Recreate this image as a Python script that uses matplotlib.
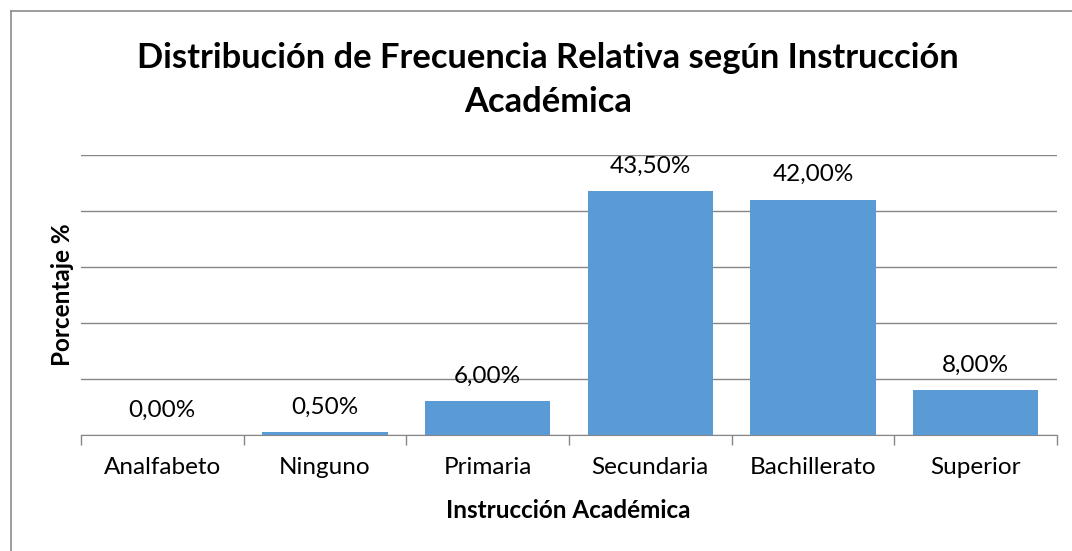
import matplotlib
matplotlib.use("Agg")
import matplotlib.pyplot as plt

categories = ["Analfabeto", "Ninguno", "Primaria", "Secundaria", "Bachillerato", "Superior"]
values = [0.0, 0.5, 6.0, 43.5, 42.0, 8.0]
labels = ["0,00%", "0,50%", "6,00%", "43,50%", "42,00%", "8,00%"]
title = "Distribución de Frecuencia Relativa según Instrucción\nAcadémica"
xlabel = "Instrucción Académica"
ylabel = "Porcentaje %"

W, H = 1072, 551
fig = plt.figure(figsize=(W / 100, H / 100), dpi=100)
plt.rcParams['font.family'] = ['Lato', 'DejaVu Sans']

# chart border (top and left visible)
fig.add_artist(plt.Line2D([11 / W, 11 / W], [0, 1 - 11 / H], transform=fig.transFigure, color="#8c8c8c", lw=1.2))
fig.add_artist(plt.Line2D([11 / W, 1], [1 - 11 / H, 1 - 11 / H], transform=fig.transFigure, color="#8c8c8c", lw=1.2))

left, right, top, bottom = 81, 1057, 155, 435
ax = fig.add_axes([left / W, 1 - bottom / H, (right - left) / W, (bottom - top) / H])
x = list(range(len(categories)))
ax.bar(x, values, width=0.77, color="#5B9BD5", zorder=3)
ax.set_xlim(-0.5, len(categories) - 0.5)
ax.set_ylim(0, 50)
ax.set_yticks([0, 10, 20, 30, 40, 50])
ax.yaxis.grid(True, color="#868686", lw=1.0, zorder=0)
ax.set_yticklabels([])
ax.tick_params(axis="y", length=0)
for s in ["top", "right", "left"]:
    ax.spines[s].set_visible(False)
ax.spines["bottom"].set_color("#868686")
ax.set_xticks([i - 0.5 for i in range(len(categories) + 1)], minor=False)
ax.set_xticklabels([])
ax.tick_params(axis="x", which="major", length=7, color="#868686", width=1)
ax.set_xticks(x, minor=True)
ax.set_xticklabels(categories, minor=True, fontsize=17.5)
ax.tick_params(axis="x", which="minor", length=0, pad=16)

for xi, v, lab in zip(x, values, labels):
    ax.annotate(lab, (xi, v), xytext=(0, 25), textcoords="offset pixels",
                ha="center", va="center", fontsize=17.5, zorder=4)

fig.text(548 / W, 1 - 80 / H, title, ha="center", va="center", fontsize=24.8, fontweight="bold", linespacing=1.45)
fig.text(568 / W, 1 - 511 / H, xlabel, ha="center", va="center", fontsize=17.5, fontweight="bold")
fig.text(62 / W, 1 - 295 / H, ylabel, ha="center", va="center", fontsize=17.5, fontweight="bold", rotation=90)

fig.savefig("out.png", dpi=100)
